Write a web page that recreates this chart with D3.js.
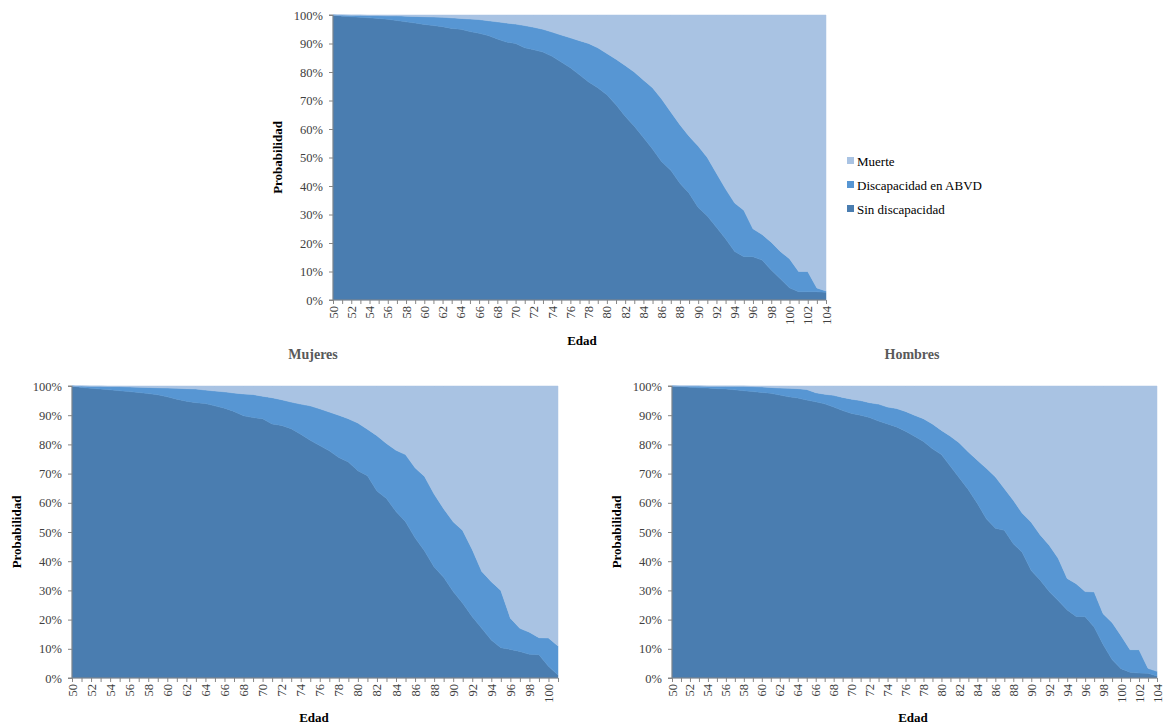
<!DOCTYPE html>
<html><head><meta charset="utf-8">
<script src="https://cdn.jsdelivr.net/npm/d3@7"></script>
<style>body{margin:0;background:#fff}svg{display:block}text{font-family:'Liberation Serif','Times New Roman',serif}</style>
</head><body>
<svg id="c" width="1163" height="727"></svg>
<script>
// ---------- DATA ----------
const seriesNames = ["Sin discapacidad", "Discapacidad en ABVD", "Muerte"];
const legendOrder = ["Muerte", "Discapacidad en ABVD", "Sin discapacidad"];
const yTicks = ["0%","10%","20%","30%","40%","50%","60%","70%","80%","90%","100%"];

// Total (ages 50-104)
const agesTotal = d3.range(50, 105);
const totalSin = [100,99.6,99.4,99.2,99.0,98.8,98.5,98.1,97.6,97.2,96.7,96.3,95.9,95.3,95.0,94.2,93.6,92.8,91.6,90.5,90.0,88.5,87.8,87.0,85.5,83.5,81.5,79.0,76.5,74.5,72.0,68.5,64.5,61.0,57.0,53.0,48.5,45.5,41.0,37.5,32.5,29.5,25.5,21.5,17.0,15.2,15.2,14.0,10.5,7.5,4.3,2.9,2.9,2.9,2.7];
const totalDis = [0,0.4,0.5,0.7,0.8,1.0,1.2,1.6,2.0,2.3,2.7,3.0,3.3,3.7,3.8,4.4,4.8,5.2,6.0,6.7,6.8,7.8,7.9,8.0,8.5,9.5,10.5,12.0,13.5,14.0,14.5,16.0,17.8,19.0,20.2,21.5,22.0,20.5,20.5,20.0,21.5,20.5,19.0,17.5,17.0,16.3,9.8,9.0,9.8,9.5,10.2,7.1,7.1,1.3,0.5];
const totalMue = [0,0,0.1,0.1,0.2,0.2,0.3,0.3,0.4,0.5,0.6,0.7,0.8,1.0,1.2,1.4,1.6,2.0,2.4,2.8,3.2,3.7,4.3,5.0,6.0,7.0,8.0,9.0,10.0,11.5,13.5,15.5,17.7,20.0,22.8,25.5,29.5,34.0,38.5,42.5,46.0,50.0,55.5,61.0,66.0,68.5,75.0,77.0,79.7,83.0,85.5,90.0,90.0,95.8,96.8];

// Mujeres (ages 50-101)
const agesMuj = d3.range(50, 102);
const mujSin = [100,99.5,99.2,99.0,98.7,98.4,98.1,97.8,97.4,97.0,96.3,95.5,94.8,94.3,94.0,93.2,92.4,91.3,89.8,89.2,88.8,87.0,86.5,85.4,83.5,81.4,79.6,77.8,75.5,74.0,71.0,69.3,64.0,61.5,57.0,53.5,48.0,43.5,38.0,34.5,29.6,25.6,21.0,17.0,13.0,10.4,9.8,9.1,8.1,8.0,4.0,1.0];
const mujDis = [0,0.5,0.7,0.9,1.1,1.4,1.6,1.8,2.1,2.4,3.0,3.7,4.3,4.7,4.6,5.1,5.6,6.3,7.5,7.9,7.7,9.0,8.8,9.1,10.3,11.8,12.6,13.3,14.5,14.8,16.3,15.9,19.0,18.8,21.0,23.0,24.0,25.5,25.0,23.5,23.9,24.9,23.0,19.5,20.0,19.6,10.7,7.9,7.6,5.8,9.7,10.0];
const mujMue = [0,0,0.1,0.1,0.2,0.2,0.3,0.4,0.5,0.6,0.7,0.8,0.9,1.0,1.4,1.7,2.0,2.4,2.7,2.9,3.5,4.0,4.7,5.5,6.2,6.8,7.8,8.9,10.0,11.2,12.7,14.8,17.0,19.7,22.0,23.5,28.0,31.0,37.0,42.0,46.5,49.5,56.0,63.5,67.0,70.0,79.5,83.0,84.3,86.2,86.3,89.0];

// Hombres (ages 50-104)
const agesHom = d3.range(50, 105);
const homSin = [100,99.8,99.6,99.4,99.3,99.1,99.0,98.7,98.4,98.1,97.8,97.5,96.9,96.3,95.9,95.2,94.6,93.9,92.8,91.6,90.6,90.0,89.2,88.0,87.0,86.0,84.5,82.8,81.0,78.5,76.5,72.5,68.5,64.5,59.8,54.5,51.3,50.6,46.0,43.0,36.8,33.5,29.6,26.5,23.3,21.1,21.0,17.5,11.5,6.3,3.2,2.0,1.7,1.6,0.7];
const homDis = [0,0.2,0.4,0.6,0.6,0.8,0.9,1.2,1.5,1.7,1.9,2.0,2.4,2.9,3.2,3.6,3.1,3.3,4.0,4.5,4.9,5.0,5.1,5.8,5.8,6.3,6.8,7.2,7.8,8.5,8.3,10.3,12.0,12.9,14.8,17.3,17.6,14.3,14.9,13.4,16.5,15.5,15.9,14.5,10.8,11.2,8.6,12.0,10.5,12.7,11.3,7.7,8.0,1.7,1.6];
const homMue = [0,0,0,0,0.1,0.1,0.1,0.1,0.1,0.2,0.3,0.5,0.7,0.8,0.9,1.2,2.3,2.8,3.2,3.9,4.5,5.0,5.7,6.2,7.2,7.7,8.7,10.0,11.2,13.0,15.2,17.2,19.5,22.6,25.4,28.2,31.1,35.1,39.1,43.6,46.7,51.0,54.5,59.0,65.9,67.7,70.4,70.5,78.0,81.0,85.5,90.3,90.3,96.7,97.7];

// ---------- STYLE ----------
const colors = {"Sin discapacidad":"#4a7db0","Discapacidad en ABVD":"#5796d3","Muerte":"#a9c3e3"};
const serif = "'Liberation Serif','Times New Roman',serif";
const svg = d3.select("#c");

function chart(cfg){
  const {ages, sin, dis, mue, x0, x1, y0, y1} = cfg;
  const rows = ages.map((a,i)=>({age:a, "Sin discapacidad":sin[i], "Discapacidad en ABVD":dis[i], "Muerte":mue[i]}));
  const x = d3.scalePoint().domain(ages).range([x0, x1]).padding(0);
  const y = d3.scaleLinear().domain([0,100]).range([y1, y0]);
  const stack = d3.stack().keys(seriesNames);
  const layers = stack(rows);
  const area = d3.area().x(d=>x(d.data.age)).y0(d=>y(d[0])).y1(d=>y(Math.min(100,d[1])));
  const g = svg.append("g");
  g.selectAll("path.a").data(layers).join("path")
    .attr("d", area).attr("fill", d=>colors[d.key]).attr("stroke", d=>colors[d.key]).attr("stroke-width",0.5);

  // y axis
  const ya = g.append("g").attr("transform",`translate(${x0},0)`)
    .call(d3.axisLeft(y).tickValues(d3.range(0,101,10)).tickSize(4).tickFormat((d,i)=>yTicks[i]));
  ya.attr("font-family", null);
  ya.select(".domain").attr("stroke","#868686").attr("d",`M-4,${y1}H0V${y0}H-4`);
  ya.selectAll(".tick line").attr("stroke","#868686");
  ya.selectAll(".tick text").style("font-family",serif).style("font-size","12.5px").attr("fill","#404040").attr("x",-10);

  // x axis
  const xa = g.append("g").attr("transform",`translate(0,${y1})`)
    .call(d3.axisBottom(x).tickSize(4).tickFormat(d=> (d%2===0)? d : ""));
  xa.attr("font-family", null);
  xa.select(".domain").attr("stroke","#868686").attr("d",`M${x0},0H${x1}`);
  xa.selectAll(".tick line").attr("stroke","#868686");
  xa.selectAll(".tick text").style("font-family",serif).style("font-size","12.5px").attr("fill","#404040")
    .attr("transform","rotate(-90)").attr("text-anchor","end").attr("x",-6).attr("y",0).attr("dy","0.32em");

  // axis titles
  g.append("text").attr("x",cfg.edadX).attr("y",cfg.edadY).attr("text-anchor","middle")
    .style("font-family",serif).attr("font-weight","bold").attr("font-size",13).attr("fill","#000").text("Edad");
  g.append("text").attr("transform",`translate(${cfg.probX},${(y0+y1)/2}) rotate(-90)`).attr("text-anchor","middle")
    .style("font-family",serif).attr("font-weight","bold").attr("font-size",13).attr("fill","#000").text("Probabilidad");
  if (cfg.title){
    g.append("text").attr("x",cfg.titleX).attr("y",cfg.titleY).attr("text-anchor","middle")
      .style("font-family",serif).attr("font-weight","bold").attr("font-size",14).attr("fill","#595959").text(cfg.title);
  }
}

chart({ages:agesTotal, sin:totalSin, dis:totalDis, mue:totalMue, x0:333, x1:826, y0:15, y1:300,
  edadX:582, edadY:345, probX:282});
chart({ages:agesMuj, sin:mujSin, dis:mujDis, mue:mujMue, x0:72, x1:558, y0:386, y1:678,
  edadX:314, edadY:722, probX:21, title:"Mujeres", titleX:313, titleY:359});
chart({ages:agesHom, sin:homSin, dis:homDis, mue:homMue, x0:672, x1:1157, y0:386, y1:678,
  edadX:913, edadY:722, probX:621, title:"Hombres", titleX:912, titleY:359});

// legend
const lg = svg.append("g");
legendOrder.forEach((k,i)=>{
  const yy = 161 + i*24;
  lg.append("rect").attr("x",847).attr("y",yy-4).attr("width",7).attr("height",7).attr("fill",colors[k]);
  lg.append("text").attr("x",857).attr("y",yy).attr("dy","0.35em").style("font-family",serif).attr("font-size",13)
    .attr("fill","#000").text(k);
});
</script>
</body></html>
